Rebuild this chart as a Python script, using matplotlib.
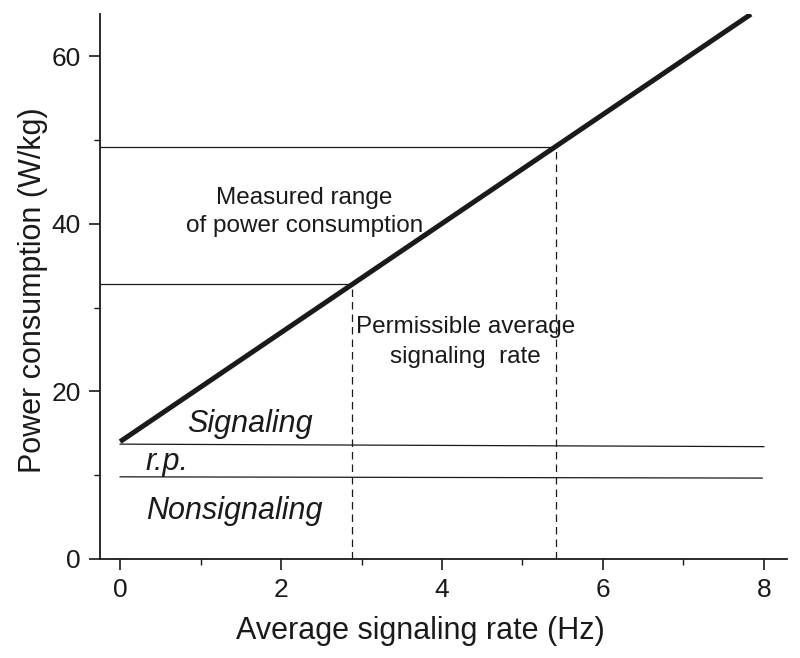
import matplotlib.pyplot as plt

plt.rcParams['font.family'] = ['Liberation Sans', 'DejaVu Sans']

# thick power line
rate_x = [0.0, 7.84]
power_y = [14.0, 65.0]

# measured range of power consumption
range_low, range_high = 32.8, 49.2
rate_low, rate_high = 2.88, 5.42

# baseline levels (slightly drooping)
signal_x = [0.0, 8.0]
signal_y = [13.7, 13.4]
rp_x = [0.0, 7.98]
rp_y = [9.8, 9.65]

xticks = [0, 2, 4, 6, 8]
yticks = [0, 20, 40, 60]

ink = '#1a1a1a'

fig = plt.figure(figsize=(8, 6.58), dpi=100)
ax = fig.add_axes([0.125, 0.1505, 0.859, 0.828])
ax.set_xlim(-0.25, 8.29)
ax.set_ylim(0, 65)

ax.plot(rate_x, power_y, color=ink, lw=3.6, solid_capstyle='butt')
ax.plot(signal_x, signal_y, color=ink, lw=0.9)
ax.plot(rp_x, rp_y, color=ink, lw=0.9)

ax.plot([-0.25, rate_low], [range_low, range_low], color=ink, lw=0.9)
ax.plot([-0.25, rate_high], [range_high, range_high], color=ink, lw=0.9)
ax.plot([rate_low, rate_low], [0, range_low], color=ink, lw=0.9, ls=(0, (6, 4)))
ax.plot([rate_high, rate_high], [0, range_high], color=ink, lw=0.9, ls=(0, (6, 4)))

ax.text(2.29, 41.4, 'Measured range\nof power consumption', ha='center', va='center',
        fontsize=17.5, color=ink, linespacing=1.4)
ax.text(4.29, 25.9, 'Permissible average\nsignaling  rate', ha='center', va='center',
        fontsize=17.5, color=ink, linespacing=1.45)
ax.text(1.61, 16.1, 'Signaling', ha='center', va='center', fontsize=22, style='italic', color=ink)
ax.text(0.58, 11.6, 'r.p.', ha='center', va='center', fontsize=22, style='italic', color=ink)
ax.text(1.42, 5.7, 'Nonsignaling', ha='center', va='center', fontsize=22, style='italic', color=ink)

for s in ['top', 'right']:
    ax.spines[s].set_visible(False)
for s in ['left', 'bottom']:
    ax.spines[s].set_linewidth(1.3)
    ax.spines[s].set_color(ink)

ax.set_xticks(xticks)
ax.set_yticks(yticks)
ax.set_xticks([1, 3, 5, 7], minor=True)
ax.set_yticks([10, 30, 50], minor=True)
ax.tick_params(which='major', direction='out', length=8, width=1.2, labelsize=19, colors=ink, pad=6)
ax.tick_params(which='minor', direction='out', length=4, width=1.0, colors=ink)

ax.set_xlabel('Average signaling rate (Hz)', fontsize=22, color=ink)
ax.set_ylabel('Power consumption (W/kg)', fontsize=22, color=ink)
ax.xaxis.set_label_coords(0.466, -0.104)
ax.yaxis.set_label_coords(-0.076, 0.494)

fig.savefig('out.png', dpi=100)
